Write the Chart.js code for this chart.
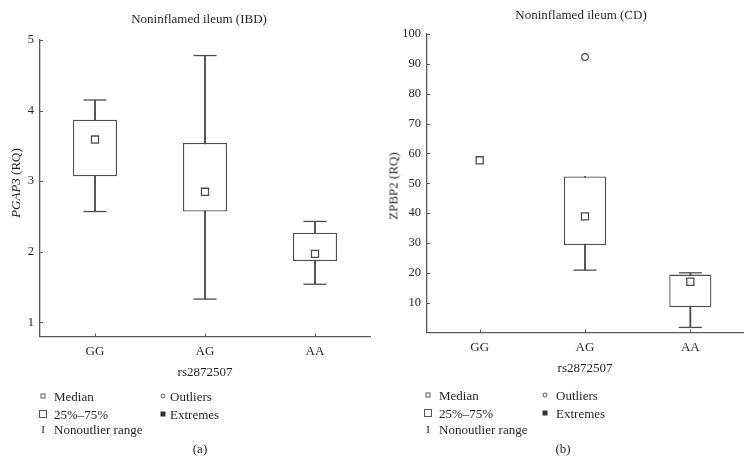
<!DOCTYPE html>
<html>
<head>
<meta charset="utf-8">
<script src="https://cdn.jsdelivr.net/npm/chart.js@4/dist/chart.umd.min.js"></script>
<style>
html,body{margin:0;padding:0;background:#fff;}
#wrap{position:relative;width:751px;height:469px;overflow:hidden;font-family:"Liberation Serif","Times New Roman",serif;color:#231f20;}
canvas{position:absolute;top:0;}
.t{position:absolute;white-space:nowrap;font-size:13px;line-height:1;transform:translate(-50%,-50%);}
.l{position:absolute;white-space:nowrap;font-size:13px;line-height:1;transform:translateY(-50%);}
.yt{position:absolute;white-space:nowrap;font-size:13px;line-height:1;transform:translate(-50%,-50%) rotate(-90deg);}
.mk{position:absolute;transform:translate(-50%,-50%);box-sizing:border-box;}
</style>
</head>
<body>
<div id="wrap">
  <canvas id="c1" width="375" height="469" style="left:0;width:375px;height:469px"></canvas>
  <canvas id="c2" width="376" height="469" style="left:375px;width:376px;height:469px"></canvas>

  <div class="t" style="left:199px;top:18px">Noninflamed ileum (IBD)</div>
  <div class="t" style="left:581px;top:13.5px">Noninflamed ileum (CD)</div>
  <div class="yt" style="left:15px;top:183px"><i>PGAP3</i> (RQ)</div>
  <div class="yt" style="left:393px;top:186px">ZPBP2 (RQ)</div>

  <!-- legend (a) -->
  <div class="mk" style="left:43px;top:396px;width:5px;height:5px;border:1px solid #555"></div>
  <div class="l" style="left:54px;top:396px">Median</div>
  <div class="mk" style="left:43px;top:414px;width:8px;height:8px;border:1px solid #555"></div>
  <div class="l" style="left:54px;top:414px">25%–75%</div>
  <div class="mk" style="left:43px;top:428.5px;font-size:11px;line-height:1">I</div>
  <div class="l" style="left:54px;top:429px">Nonoutlier range</div>
  <div class="mk" style="left:163px;top:396px;width:5px;height:5px;border:1px solid #555;border-radius:50%"></div>
  <div class="l" style="left:170px;top:396px">Outliers</div>
  <div class="mk" style="left:163px;top:414px;width:5px;height:5px;background:#333"></div>
  <div class="l" style="left:170px;top:414px">Extremes</div>
  <div class="t" style="left:200px;top:448px">(a)</div>

  <!-- legend (b) -->
  <div class="mk" style="left:428px;top:395px;width:5px;height:5px;border:1px solid #555"></div>
  <div class="l" style="left:439px;top:395px">Median</div>
  <div class="mk" style="left:428px;top:413px;width:8px;height:8px;border:1px solid #555"></div>
  <div class="l" style="left:439px;top:413px">25%–75%</div>
  <div class="mk" style="left:428px;top:428.5px;font-size:11px;line-height:1">I</div>
  <div class="l" style="left:439px;top:429px">Nonoutlier range</div>
  <div class="mk" style="left:545px;top:395px;width:5px;height:5px;border:1px solid #555;border-radius:50%"></div>
  <div class="l" style="left:556px;top:395px">Outliers</div>
  <div class="mk" style="left:545px;top:413px;width:5px;height:5px;background:#333"></div>
  <div class="l" style="left:556px;top:413px">Extremes</div>
  <div class="t" style="left:563px;top:447.5px">(b)</div>
</div>

<script>
// ---------- data ----------
const categories = ['GG', 'AG', 'AA'];
const xAxisTitle = 'rs2872507';

// (a) PGAP3, noninflamed ileum (IBD)
const ibdMedian   = [3.59, 2.85, 1.97];
const ibdQ1       = [3.07, 2.57, 1.87];
const ibdQ3       = [3.87, 3.54, 2.27];
const ibdLow      = [2.57, 1.33, 1.54];
const ibdHigh     = [4.15, 4.78, 2.43];
const ibdOutliers = [null, null, null];
const ibdTicks    = [1, 2, 3, 4, 5];

// (b) ZPBP2, noninflamed ileum (CD)
const cdMedian   = [57.7, 38.9, 17.0];
const cdQ1       = [null, 29.3, 8.5];
const cdQ3       = [null, 52.3, 19.4];
const cdLow      = [null, 20.9, 1.7];
const cdHigh     = [null, 52.3, 20.0];
const cdOutliers = [null, 92.3, null];
const cdTicks    = [10, 20, 30, 40, 50, 60, 70, 80, 90, 100];

// ---------- styles ----------
const STROKE = '#4d4d4f';
const AXIS = '#58595b';
const TEXT = '#231f20';
const FONT = '"Liberation Serif","Times New Roman",serif';

const innerTicks = {
  id: 'innerTicks',
  afterDraw(chart, args, opts) {
    const {ctx, chartArea} = chart;
    const ys = chart.scales.y, xs = chart.scales.x;
    ctx.save();
    ctx.strokeStyle = AXIS;
    ctx.lineWidth = 1;
    ctx.beginPath();
    opts.values.forEach(v => {
      const y = Math.round(ys.getPixelForValue(v)) + 0.5;
      ctx.moveTo(chartArea.left, y);
      ctx.lineTo(chartArea.left + 3, y);
    });
    categories.forEach((c, i) => {
      const x = Math.round(xs.getPixelForValue(i)) + 0.5;
      ctx.moveTo(x, chartArea.bottom);
      ctx.lineTo(x, chartArea.bottom - 3);
    });
    ctx.stroke();
    ctx.restore();
  }
};

function boxChart(id, d) {
  const box = d.q1.map((v, i) => v == null ? null : [v, d.q3[i]]);
  const stem = d.low.map((v, i) => v == null ? null : [v, d.high[i]]);
  // a cap that coincides with the box edge is not drawn separately
  const capHigh = d.high.map((v, i) => v === d.q3[i] ? null : v);
  const capLow = d.low.map((v, i) => v === d.q1[i] ? null : v);
  return new Chart(document.getElementById(id), {
    type: 'bar',
    data: {
      labels: categories,
      datasets: [
        { label: 'range', data: stem, order: 4, grouped: false, barThickness: 1.2,
          backgroundColor: STROKE, borderWidth: 0 },
        { label: 'box', data: box, order: 3, grouped: false, barPercentage: 0.4, categoryPercentage: 1,
          backgroundColor: '#ffffff', borderColor: STROKE, borderWidth: 1.3, borderSkipped: false },
        { type: 'line', label: 'high', data: capHigh, order: 2, showLine: false, clip: false,
          pointStyle: 'line', pointRadius: 11.5, pointBorderWidth: 1.3, pointBorderColor: STROKE },
        { type: 'line', label: 'low', data: capLow, order: 2, showLine: false, clip: false,
          pointStyle: 'line', pointRadius: 11.5, pointBorderWidth: 1.3, pointBorderColor: STROKE },
        { type: 'line', label: 'median', data: d.median, order: 1, showLine: false, clip: false,
          pointStyle: 'rect', pointRadius: 5, pointBorderWidth: 1.3, pointBorderColor: STROKE,
          pointBackgroundColor: '#ffffff' },
        { type: 'line', label: 'outliers', data: d.outliers, order: 0, showLine: false, clip: false,
          pointStyle: 'circle', pointRadius: 3.3, pointBorderWidth: 1.2, pointBorderColor: STROKE,
          pointBackgroundColor: '#ffffff' }
      ]
    },
    options: {
      responsive: false,
      animation: false,
      devicePixelRatio: 1,
      layout: { autoPadding: false, padding: d.pad },
      plugins: { legend: { display: false }, tooltip: { enabled: false }, title: { display: false },
                 innerTicks: { values: d.ticks } },
      scales: {
        x: {
          type: 'category', offset: true,
          grid: { display: false, drawTicks: false, offset: false },
          border: { display: true, color: AXIS, width: 1.3 },
          ticks: { color: TEXT, font: { family: FONT, size: 13 }, padding: 7 },
          title: { display: true, text: xAxisTitle, color: TEXT, font: { family: FONT, size: 13 },
                   padding: { top: 0, bottom: 0 } },
          afterFit(s) { s.height = 43.5; }
        },
        y: {
          type: 'linear', min: d.min, max: d.max, bounds: 'data',
          grid: { display: false, drawTicks: false },
          border: { display: true, color: AXIS, width: 1.3 },
          ticks: { color: TEXT, padding: 6, font: { family: FONT, size: 12.5 },
                   callback: v => String(v) },
          afterBuildTicks(s) { s.ticks = d.ticks.map(v => ({ value: v })); },
          afterFit(s) { s.width = d.yw; }
        }
      }
    },
    plugins: [innerTicks]
  });
}

boxChart('c1', {
  median: ibdMedian, q1: ibdQ1, q3: ibdQ3, low: ibdLow, high: ibdHigh, outliers: ibdOutliers,
  ticks: ibdTicks, min: 0.8, max: 5, yw: 40,
  pad: { left: 0, right: 5, top: 40, bottom: 89 }
});
boxChart('c2', {
  median: cdMedian, q1: cdQ1, q3: cdQ3, low: cdLow, high: cdHigh, outliers: cdOutliers,
  ticks: cdTicks, min: 0, max: 100, yw: 52,
  pad: { left: 0, right: 8, top: 34, bottom: 93 }
});
</script>
</body>
</html>
